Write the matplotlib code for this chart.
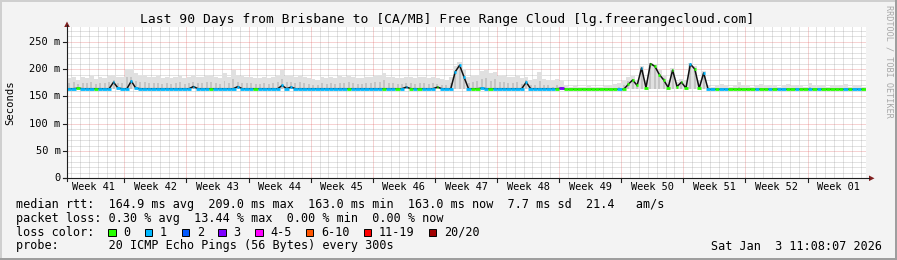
import matplotlib
matplotlib.use("Agg")
import matplotlib.pyplot as plt
import matplotlib.transforms as mtrans
from matplotlib.patches import Polygon, Rectangle
from matplotlib.lines import Line2D

plt.rcParams['font.family'] = ['DejaVu Sans Mono']

# ---------------- data ----------------
title = "Last 90 Days from Brisbane to [CA/MB] Free Range Cloud [lg.freerangecloud.com]"
week_labels = ["Week 41", "Week 42", "Week 43", "Week 44", "Week 45", "Week 46", "Week 47",
               "Week 48", "Week 49", "Week 50", "Week 51", "Week 52", "Week 01"]
y_ticks = [0, 50, 100, 150, 200, 250]
y_tick_labels = ["0", "50 m", "100 m", "150 m", "200 m", "250 m"]
span_days = 90
step_days = 0.5

median_ms = [
    164, 164, 165, 164, 164, 164, 164, 164, 164, 164,
    176, 165, 164, 164, 178, 165, 164, 164, 164, 164,
    164, 164, 164, 164, 164, 164, 164, 164, 168, 164,
    164, 164, 164, 164, 164, 164, 164, 164, 168, 164,
    164, 164, 164, 164, 164, 164, 164, 164, 170, 164,
    167, 164, 164, 164, 164, 164, 164, 164, 164, 164,
    164, 164, 164, 164, 164, 164, 164, 164, 164, 164,
    164, 164, 164, 164, 164, 164, 167, 164, 164, 164,
    164, 164, 164, 167, 164, 164, 164, 195, 207, 185,
    164, 164, 164, 165, 164, 164, 164, 164, 164, 164,
    164, 164, 164, 176, 164, 164, 164, 164, 164, 164,
    164, 165, 163, 163, 163, 163, 163, 163, 163, 163,
    163, 163, 163, 163, 163, 163, 172, 180, 170, 202,
    166, 210, 205, 190, 180, 166, 198, 168, 176, 165,
    209, 200, 165, 193, 163, 163, 163, 163, 163, 163,
    163, 163, 163, 163, 163, 163, 163, 163, 163, 163,
    163, 163, 163, 163, 163, 163, 163, 163, 163, 163,
    163, 163, 163, 163, 163, 163, 163, 163, 163, 163,
]

loss_idx = [
    1, 1, 0, 1, 1, 1, 0, 1, 1, 1,
    1, 1, 1, 1, 1, 1, 1, 1, 1, 1,
    1, 1, 1, 1, 1, 1, 1, 1, 1, 1,
    1, 1, 0, 1, 1, 1, 1, 1, 1, 1,
    1, 1, 0, 1, 1, 1, 1, 1, 1, 1,
    1, 1, 1, 1, 1, 1, 1, 1, 1, 1,
    1, 1, 1, 0, 1, 1, 1, 1, 1, 1,
    1, 0, 1, 1, 0, 1, 1, 0, 1, 0,
    1, 1, 1, 0, 1, 1, 1, 1, 1, 1,
    1, 0, 0, 1, 1, 0, 1, 1, 1, 1,
    1, 1, 1, 1, 1, 1, 1, 1, 1, 1,
    0, 3, 0, 0, 0, 0, 0, 0, 0, 0,
    0, 0, 0, 0, 1, 0, 0, 0, 0, 1,
    0, 0, 0, 0, 0, 0, 0, 0, 0, 0,
    1, 0, 0, 1, 1, 1, 0, 1, 1, 0,
    0, 0, 0, 0, 0, 1, 0, 0, 1, 0,
    1, 1, 0, 0, 1, 0, 0, 1, 0, 1,
    0, 0, 0, 0, 0, 1, 0, 1, 1, 0,
]

smoke_hi = [
    183, 186, 180, 185, 184, 187, 182, 186, 184, 188,
    190, 186, 185, 200, 201, 192, 188, 190, 186, 185,
    187, 184, 186, 183, 185, 188, 184, 186, 190, 185,
    186, 188, 190, 186, 184, 192, 186, 199, 190, 187,
    185, 186, 184, 183, 185, 184, 186, 187, 198, 188,
    187, 185, 188, 186, 184, 181, 180, 185, 183, 186,
    184, 187, 185, 188, 186, 184, 183, 186, 185, 187,
    190, 193, 186, 185, 184, 183, 186, 185, 184, 186,
    185, 184, 186, 183, 182, 180, 185, 205, 213, 200,
    186, 188, 190, 196, 198, 192, 195, 188, 190, 186,
    185, 187, 183, 185, 180, 182, 194, 181, 180, 178,
    182, 178, 170, 168, 169, 167, 168, 170, 168, 167,
    168, 169, 170, 172, 175, 178, 186, 188, 180, 205,
    178, 212, 210, 198, 190, 180, 202, 176, 182, 178,
    212, 206, 180, 196, 170, 168, 170, 172, 169, 168,
    170, 177, 171, 169, 168, 170, 172, 169, 171, 170,
    168, 170, 172, 169, 171, 170, 168, 174, 170, 169,
    170, 168, 171, 169, 170, 172, 168, 170, 169, 168,
]

smoke_mid = [
    174, 176, 172, 175, 174, 176, 173, 175, 174, 177,
    180, 175, 174, 185, 186, 178, 176, 177, 175, 174,
    175, 173, 174, 172, 174, 176, 173, 175, 177, 174,
    174, 176, 177, 175, 173, 178, 175, 182, 177, 175,
    174, 175, 173, 172, 174, 173, 175, 176, 182, 176,
    176, 174, 176, 175, 173, 171, 170, 174, 172, 175,
    173, 175, 174, 176, 175, 173, 172, 175, 174, 176,
    177, 180, 175, 174, 173, 172, 175, 174, 173, 175,
    174, 173, 175, 172, 171, 170, 174, 195, 205, 190,
    175, 176, 178, 182, 184, 179, 181, 176, 177, 175,
    174, 176, 172, 180, 170, 171, 178, 170, 170, 168,
    170, 168, 165, 165, 165, 164, 165, 166, 165, 164,
    165, 165, 166, 166, 168, 170, 178, 182, 173, 200,
    170, 208, 206, 192, 184, 172, 198, 170, 177, 170,
    208, 202, 170, 192, 165, 165, 165, 166, 165, 165,
    165, 167, 166, 165, 165, 165, 166, 165, 166, 165,
    165, 165, 166, 165, 166, 165, 165, 167, 165, 165,
    165, 165, 166, 165, 165, 166, 165, 165, 165, 165,
]
smoke_floor = 163

loss_labels = ["0", "1", "2", "3", "4-5", "6-10", "11-19", "20/20"]
loss_colors = ["#26ff00", "#00b8ff", "#0059ff", "#7e00ff", "#ff00ff", "#ff5500", "#ff0000", "#a10000"]

stats_line1 = "median rtt:  164.9 ms avg  209.0 ms max  163.0 ms min  163.0 ms now  7.7 ms sd  21.4   am/s"
stats_line2 = "packet loss: 0.30 % avg  13.44 % max  0.00 % min  0.00 % now"
probe_line = "probe:       20 ICMP Echo Pings (56 Bytes) every 300s"
date_text = "Sat Jan  3 11:08:07 2026"
side_text = "RRDTOOL / TOBI OETIKER"

# ---------------- layout ----------------
W, H, DPI = 897, 260, 100
L, R, T, B = 67, 865.6, 27, 178.3
Y_TOP = 277
FIRST_WEEK_LINE = 6.46  # day offset of first week boundary
FLAT_LIMIT = 166        # median values at/below this are drawn as a continuous band

fig = plt.figure(figsize=(W / DPI, H / DPI), dpi=DPI, facecolor='#F3F3F3')


def fx(px):
    return px / W


def fy(py):
    return 1 - py / H


ax = fig.add_axes([fx(L), fy(B), fx(R) - fx(L), fy(T) - fy(B)])
ax.set_facecolor('white')
ax.set_xlim(0, span_days)
ax.set_ylim(0, Y_TOP)
for s in ax.spines.values():
    s.set_visible(False)
ax.set_xticks([])
ax.set_yticks([])

# grid
minor_col = (0.56, 0.56, 0.56, 0.5)
major_col = (0.87, 0.31, 0.31, 0.5)
dash = (0, (1, 1))
d = FIRST_WEEK_LINE % 1
while d < span_days:
    is_major = abs(((d - FIRST_WEEK_LINE) / 7) - round((d - FIRST_WEEK_LINE) / 7)) < 1e-6
    ax.axvline(d, color=major_col if is_major else minor_col, lw=0.72, ls=dash, zorder=0)
    d += 1
for v in range(10, Y_TOP, 10):
    ax.axhline(v, color=major_col if v % 50 == 0 else minor_col, lw=0.72, ls=dash, zorder=0)

# smoke
n = len(median_ms)
lefts = [i * step_days for i in range(n)]
centers = [(i + 0.5) * step_days for i in range(n)]
ax.bar(lefts, [h - smoke_floor for h in smoke_hi], bottom=smoke_floor, width=step_days,
       align='edge', color='#E0E0E0', linewidth=0, zorder=2)
ax.bar(centers, [h - smoke_floor for h in smoke_mid], bottom=smoke_floor, width=step_days * 0.45,
       align='center', color='#C4C4C4', linewidth=0, zorder=2)

# median: thin dark line through the points, loss-coloured caps
ax.plot(centers, median_ms, color='#111111', lw=1.1, zorder=3)
seg_l, seg_r = [], []
for i in range(n):
    if median_ms[i] <= FLAT_LIMIT:
        seg_l.append(lefts[i])
        seg_r.append(lefts[i] + step_days)
    else:
        seg_l.append(centers[i] - step_days * 0.2)
        seg_r.append(centers[i] + step_days * 0.2)
ax.hlines(median_ms, seg_l, seg_r,
          colors=[loss_colors[k] for k in loss_idx], lw=2.0, zorder=4)

# axes lines and arrows
axis_col = '#1F1F1F'
arrow_col = '#801F1F'
fig.add_artist(Line2D([fx(L), fx(L)], [fy(181), fy(25)], color=axis_col, lw=0.8))
fig.add_artist(Line2D([fx(63), fx(869)], [fy(B), fy(B)], color=axis_col, lw=0.8))
fig.add_artist(Polygon([[fx(L), fy(21.5)], [fx(64.2), fy(27)], [fx(69.8), fy(27)]],
                       closed=True, color=arrow_col, lw=0))
fig.add_artist(Polygon([[fx(874.5), fy(B)], [fx(869), fy(175.5)], [fx(869), fy(181.1)]],
                       closed=True, color=arrow_col, lw=0))

# y ticks + labels
ytr = mtrans.blended_transform_factory(fig.transFigure, ax.transData)
for v, lab in zip(y_ticks, y_tick_labels):
    fig.add_artist(Line2D([fx(63), fx(L)], [v, v], transform=ytr, color=axis_col, lw=0.8))
    fig.text(fx(60.5), v, lab, transform=ytr, ha='right', va='center', fontsize=7.5, color='black')

# x ticks + labels
xtr = mtrans.blended_transform_factory(ax.transData, fig.transFigure)
k = 0
while FIRST_WEEK_LINE + 7 * k < span_days:
    xv = FIRST_WEEK_LINE + 7 * k
    fig.add_artist(Line2D([xv, xv], [fy(B), fy(181.5)], transform=xtr, color=axis_col, lw=0.8))
    k += 1
for j, lab in enumerate(week_labels):
    xc = FIRST_WEEK_LINE - 3.5 + 7 * j
    fig.text(xc, fy(187.5), lab, transform=xtr, ha='center', va='center', fontsize=7.4)

# title, axis label, side text
fig.text(fx(447), fy(19), title, ha='center', va='center', fontsize=9.4)
fig.text(fx(10), fy(102.5), "Seconds", rotation=90, ha='center', va='center', fontsize=7.6)
fig.text(fx(888.5), fy(61), side_text, rotation=270, ha='center', va='center',
         fontsize=6.1, color='#A8A8A8')

# legend
LEG = 8.48
fig.text(fx(16), fy(204.3), stats_line1, ha='left', va='center', fontsize=LEG)
fig.text(fx(16), fy(218.3), stats_line2, ha='left', va='center', fontsize=LEG)
fig.text(fx(16), fy(232.3), "loss color:", ha='left', va='center', fontsize=LEG)
fig.text(fx(16), fy(246), probe_line, ha='left', va='center', fontsize=LEG)
fig.text(fx(882), fy(246), date_text, ha='right', va='center', fontsize=LEG)

char_w = 7.09
lx = 123.3
for lab, col in zip(loss_labels, loss_colors):
    fig.add_artist(Rectangle((fx(lx - 15), fy(236)), fx(7.5), 7.5 / H,
                             facecolor=col, edgecolor='black', lw=0.7))
    fig.text(fx(lx), fy(232.3), lab, ha='left', va='center', fontsize=LEG)
    lx += char_w * len(lab) + 29.6

# frame shading
fig.add_artist(Rectangle((0, 0), fx(2), 1, facecolor='#CFCFCF', lw=0))
fig.add_artist(Rectangle((0, fy(2)), 1, 2 / H, facecolor='#CFCFCF', lw=0))
fig.add_artist(Rectangle((fx(W - 2), 0), fx(2), 1, facecolor='#9E9E9E', lw=0))
fig.add_artist(Rectangle((0, 0), 1, 2 / H, facecolor='#9E9E9E', lw=0))

fig.savefig("out.png", dpi=DPI, facecolor=fig.get_facecolor())
